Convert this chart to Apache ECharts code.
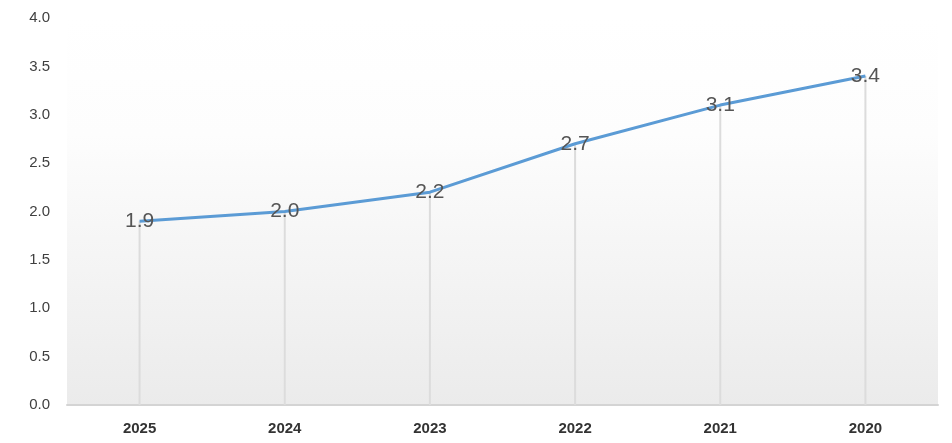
<!DOCTYPE html>
<html>
<head>
<meta charset="utf-8">
<script src="https://cdn.jsdelivr.net/npm/echarts@6/dist/echarts.min.js"></script>
<style>
  html, body { margin: 0; padding: 0; background: #fff; }
  #chart { width: 952px; height: 443px; }
</style>
</head>
<body>
<div id="chart"></div>
<script>
// 年份（横轴，从新到旧）
const years = ['2025', '2024', '2023', '2022', '2021', '2020'];
// 数值
const values = [1.9, 2.0, 2.2, 2.7, 3.1, 3.4];
// 纵轴刻度
const yMin = 0;
const yMax = 4;
const yStep = 0.5;

const labelFont = '"Liberation Sans Narrow", "Liberation Sans", sans-serif';

const chart = echarts.init(document.getElementById('chart'));
const option = {
  animation: false,
  grid: {
    left: 67,
    right: 14,
    top: 18,
    bottom: 38,
    show: true,
    borderWidth: 0,
    backgroundColor: new echarts.graphic.LinearGradient(0, 0, 0, 1, [
      { offset: 0, color: '#ffffff' },
      { offset: 0.3, color: '#fdfdfd' },
      { offset: 1, color: '#ebebeb' }
    ])
  },
  xAxis: {
    type: 'category',
    data: years,
    boundaryGap: true,
    axisLine: { lineStyle: { color: '#d4d4d4', width: 2 } },
    axisTick: { show: false },
    axisLabel: {
      color: '#333',
      fontFamily: labelFont,
      fontWeight: 'bold',
      fontSize: 15,
      margin: 16
    },
    splitLine: { show: false }
  },
  yAxis: {
    type: 'value',
    min: yMin,
    max: yMax,
    interval: yStep,
    axisLine: { show: false },
    axisTick: { show: false },
    splitLine: { show: false },
    axisLabel: {
      color: '#404040',
      fontFamily: labelFont,
      fontSize: 15,
      margin: 17,
      formatter: v => v.toFixed(1)
    }
  },
  series: [
    {
      // 垂直引线
      type: 'bar',
      data: values,
      barWidth: 2,
      itemStyle: { color: '#dcdcdc' },
      silent: true,
      z: 1
    },
    {
      type: 'line',
      data: values,
      symbol: 'circle',
      symbolSize: 2,
      showSymbol: true,
      itemStyle: { color: 'rgba(0,0,0,0)' },
      lineStyle: { color: '#5b9bd5', width: 3 },
      label: {
        show: true,
        position: 'inside',
        align: 'center',
        verticalAlign: 'middle',
        color: '#555',
        fontFamily: labelFont,
        fontSize: 21,
        formatter: p => p.value.toFixed(1)
      },
      z: 3
    }
  ]
};
chart.setOption(option);
</script>
</body>
</html>
